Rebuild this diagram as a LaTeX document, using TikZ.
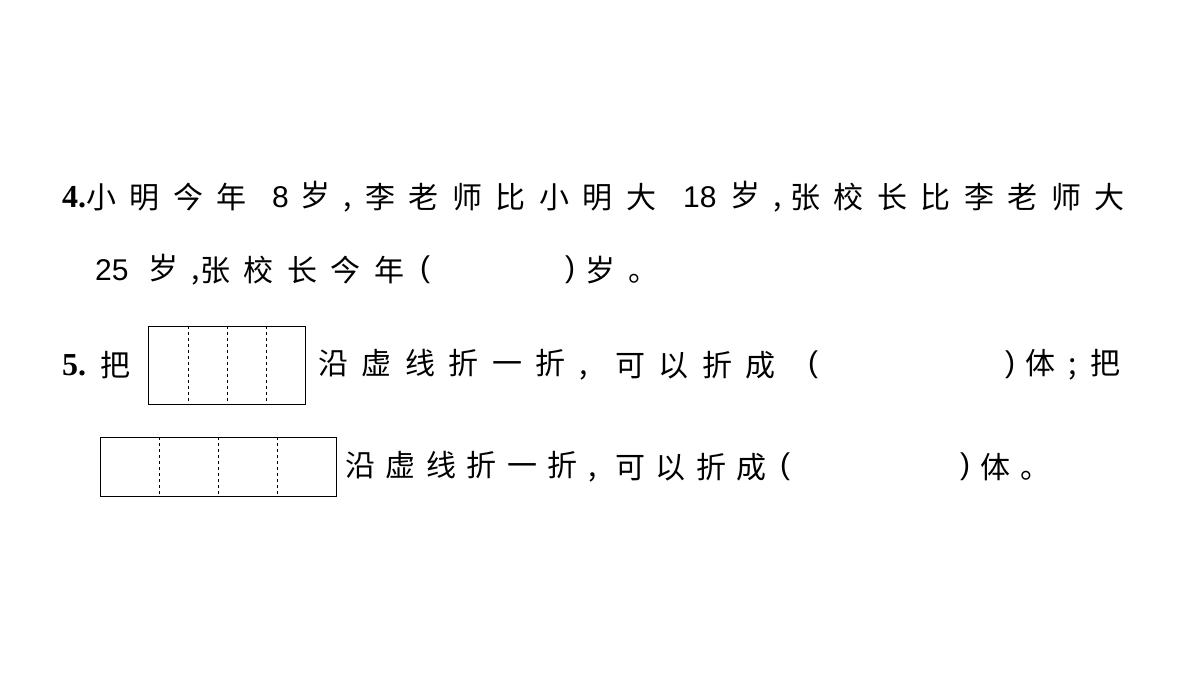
\documentclass[tikz,border=0pt]{standalone}
\usepackage{fontspec}
\newfontfamily\cjka[LetterSpace=45]{Noto Sans CJK SC}
\newfontfamily\cjkb[LetterSpace=35]{Noto Sans CJK SC}
\newfontfamily\num{Liberation Serif}
\newfontfamily\dig{Liberation Sans}
\begin{document}
\begin{tikzpicture}[x=1pt,y=-1pt,
  t/.style={anchor=west,inner sep=0pt,font=\fontsize{30}{30}\selectfont\cjka},
  tb/.style={anchor=west,inner sep=0pt,font=\fontsize{30}{30}\selectfont\cjkb},
  d/.style={anchor=west,inner sep=0pt,font=\fontsize{30}{30}\selectfont\dig},
  n/.style={anchor=west,inner sep=0pt,font=\fontsize{32}{32}\selectfont\num\bfseries},
  box/.style={draw,line width=0.8pt},
  dl/.style={dashed,line width=0.6pt,dash pattern=on 3pt off 3pt}]
\useasboundingbox (0,0) rectangle (1200,675);
% line 1
\node[n] (n4) at (62,197) {4.};
\node[t] (a1) at (86,197) {小明今年};
\node[d] (a2) at (272,197) {8};
\node[t] (a3) at (300,197) {岁,};
\node[t] (a4) at (365,197) {李老师比小明大};
\node[d] (a5) at (683,197) {18};
\node[t] (a6) at (730,197) {岁,};
\node[t] (a7) at (790,197) {张校长比李老师大};
% line 2
\node[d] (b1) at (95,270) {25};
\node[t] (b2) at (148,270) {岁,};
\node[t] (b3) at (200,270) {张校长今年};
\node[d] (b4) at (420,270) {(};
\node[d] (b5) at (565,270) {)};
\node[t] (b6) at (585,270) {岁。};
% line 3
\node[n] (n5) at (62,365) {5.};
\node[t] (c1) at (100,365) {把};
\draw[box] (148,326) rectangle (305,404);
\foreach \x in {188,227,266} \draw[dl] (\x,326) -- (\x,404);
\node[t] (c2) at (318,365) {沿虚线折一折,};
\node[t] (c3) at (615,365) {可以折成};
\node[d] (c4) at (808,365) {(};
\node[d] (c5) at (1005,365) {)};
\node[t] (c6) at (1025,365) {体;把};
% line 4
\draw[box] (100,437) rectangle (336,496);
\foreach \x in {159,218,277} \draw[dl] (\x,437) -- (\x,496);
\node[tb] (e1) at (345,467) {沿虚线折一折,};
\node[tb] (e2) at (615,467) {可以折成};
\node[d] (e3) at (780,467) {(};
\node[d] (e4) at (960,467) {)};
\node[tb] (e5) at (980,467) {体。};
\end{tikzpicture}
\end{document}
